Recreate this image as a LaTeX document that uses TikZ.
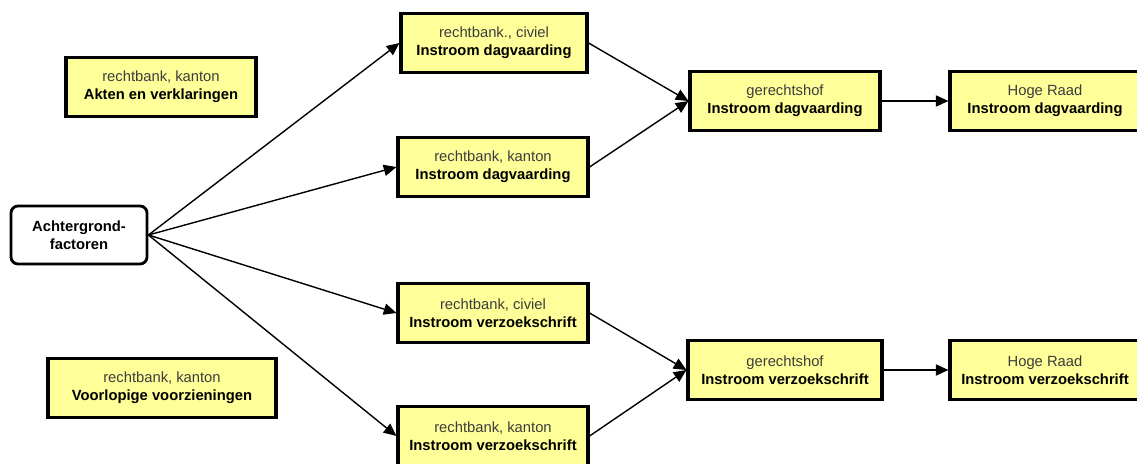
\documentclass[tikz,border=0pt]{standalone}
\usepackage{fontspec}
\setmainfont{Liberation Sans}
\usetikzlibrary{arrows.meta}
\definecolor{boxyellow}{RGB}{255,255,153}
\definecolor{toptext}{RGB}{60,60,60}
\begin{document}
\begin{tikzpicture}[x=0.025cm, y=-0.025cm]
\tikzstyle{box} = [rectangle, draw=black, line width=2.2pt, fill=boxyellow, minimum height=1.47cm, align=center, font=\fontsize{10.5}{12.5}\selectfont, inner sep=2pt]
\tikzstyle{start} = [rectangle, rounded corners=5pt, draw=black, line width=2pt, fill=white, minimum width=3.4cm, minimum height=1.45cm, align=center, font=\fontsize{10.5}{12.5}\selectfont\bfseries]
\tikzstyle{edge} = [draw=black, line width=1pt, -{Triangle[length=9pt,width=8pt]}]
\newcommand{\lbl}[2]{{\color{toptext}#1}\\\textbf{#2}}

\clip (0,0) rectangle (1137,464);
\useasboundingbox (0,0) rectangle (1137,464);

\node[start] (af) at (79,235) {Achtergrond-\\factoren};

\node[box, minimum width=4.75cm] (akt) at (161,87) {\lbl{rechtbank, kanton}{Akten en verklaringen}};
\node[box, minimum width=5.7cm] (vv) at (162,388) {\lbl{rechtbank, kanton}{Voorlopige voorzieningen}};

\node[box, minimum width=4.65cm] (rcd) at (494,43) {\lbl{rechtbank., civiel}{Instroom dagvaarding}};
\node[box, minimum width=4.75cm] (rkd) at (493,167) {\lbl{rechtbank, kanton}{Instroom dagvaarding}};
\node[box, minimum width=4.75cm] (rcv) at (493,313) {\lbl{rechtbank, civiel}{Instroom verzoekschrift}};
\node[box, minimum width=4.75cm] (rkv) at (493,436) {\lbl{rechtbank, kanton}{Instroom verzoekschrift}};

\node[box, minimum width=4.75cm] (ghd) at (785,101) {\lbl{gerechtshof}{Instroom dagvaarding}};
\node[box, minimum width=4.85cm] (ghv) at (785,370) {\lbl{gerechtshof}{Instroom verzoekschrift}};

\node[box, minimum width=4.75cm] (hrd) at (1045,101) {\lbl{Hoge Raad}{Instroom dagvaarding}};
\node[box, minimum width=4.75cm] (hrv) at (1045,370) {\lbl{Hoge Raad}{Instroom verzoekschrift}};

\draw[edge] (af.east) -- (rcd.west);
\draw[edge] (af.east) -- (rkd.west);
\draw[edge] (af.east) -- (rcv.west);
\draw[edge] (af.east) -- (rkv.west);
\draw[edge] (rcd.east) -- (ghd.west);
\draw[edge] (rkd.east) -- (ghd.west);
\draw[edge] (rcv.east) -- (ghv.west);
\draw[edge] (rkv.east) -- (ghv.west);
\draw[edge] (ghd) -- (hrd);
\draw[edge] (ghv) -- (hrv);
\end{tikzpicture}
\end{document}
